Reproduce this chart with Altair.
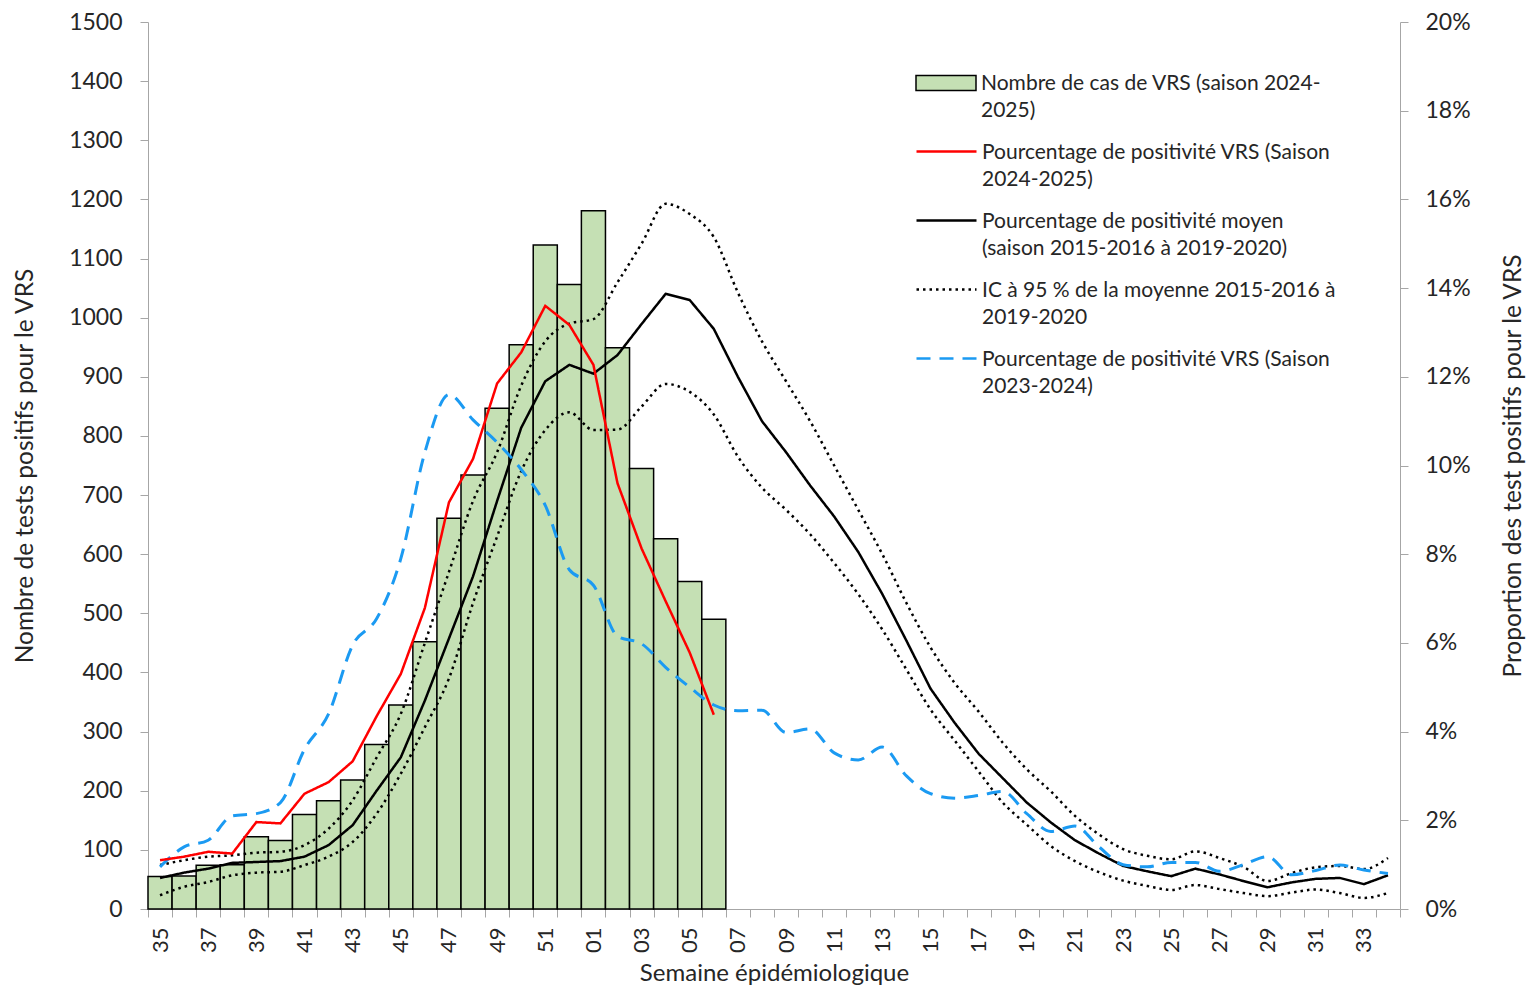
import altair as alt
import pandas as pd

# ---------------- data ----------------
weeks = ["35", "36", "37", "38", "39", "40", "41", "42", "43", "44", "45", "46",
         "47", "48", "49", "50", "51", "52", "01", "02", "03", "04", "05", "06",
         "07", "08", "09", "10", "11", "12", "13", "14", "15", "16", "17", "18",
         "19", "20", "21", "22", "23", "24", "25", "26", "27", "28", "29", "30",
         "31", "32", "33", "34"]

# number of positive RSV tests, season 2024-2025 (weeks 35 -> 06)
cases = [55, 56, 74, 75, 122, 116, 160, 183, 218, 278, 345, 452,
         661, 734, 847, 954, 1123, 1056, 1181, 949, 745, 626, 554, 490]

# % positivity season 2024-2025 (weeks 35 -> 06)
pct_2425 = [1.10, 1.18, 1.29, 1.25, 1.96, 1.93, 2.60, 2.86, 3.33, 4.35, 5.30, 6.79,
            9.17, 10.15, 11.85, 12.55, 13.60, 13.17, 12.27, 9.60, 8.13, 6.94, 5.78, 4.38]

# mean % positivity 2015-2016 to 2019-2020
pct_mean = [0.70, 0.82, 0.91, 1.04, 1.06, 1.08, 1.18, 1.44, 1.89, 2.67, 3.42, 4.70,
            6.10, 7.50, 9.20, 10.85, 11.90, 12.27, 12.07, 12.49, 13.19, 13.87, 13.73, 13.08,
            12.00, 11.00, 10.30, 9.55, 8.85, 8.05, 7.10, 6.05, 4.97, 4.20, 3.50, 2.95,
            2.40, 1.95, 1.55, 1.25, 0.97, 0.85, 0.74, 0.91, 0.78, 0.63, 0.49, 0.60,
            0.68, 0.70, 0.56, 0.76]

# 95 % CI of the mean
ci_upper = [0.99, 1.10, 1.18, 1.21, 1.27, 1.29, 1.44, 1.81, 2.45, 3.42, 4.40, 6.00,
            7.60, 9.20, 10.30, 11.80, 12.80, 13.20, 13.30, 14.13, 15.00, 15.90, 15.67, 15.15,
            13.90, 12.80, 11.90, 11.00, 10.00, 9.00, 8.00, 6.90, 5.90, 5.10, 4.45, 3.75,
            3.15, 2.65, 2.10, 1.68, 1.35, 1.20, 1.12, 1.30, 1.15, 0.95, 0.63, 0.81,
            0.94, 0.97, 0.90, 1.15]
ci_lower = [0.31, 0.50, 0.61, 0.76, 0.82, 0.84, 0.99, 1.18, 1.51, 2.15, 3.05, 4.10,
            5.20, 6.90, 8.40, 9.87, 10.80, 11.20, 10.80, 10.81, 11.33, 11.84, 11.66, 11.15,
            10.20, 9.50, 9.00, 8.45, 7.80, 7.10, 6.30, 5.40, 4.50, 3.80, 3.10, 2.40,
            1.90, 1.42, 1.08, 0.83, 0.64, 0.52, 0.43, 0.54, 0.45, 0.36, 0.29, 0.37,
            0.44, 0.36, 0.25, 0.36]

# % positivity season 2023-2024
pct_2324 = [0.95, 1.40, 1.55, 2.10, 2.15, 2.40, 3.60, 4.40, 5.95, 6.55, 7.90, 10.30,
            11.60, 11.03, 10.52, 9.91, 9.10, 7.65, 7.30, 6.15, 5.98, 5.45, 5.00, 4.60,
            4.47, 4.48, 3.98, 4.06, 3.52, 3.36, 3.65, 3.00, 2.60, 2.50, 2.56, 2.65,
            2.15, 1.75, 1.87, 1.40, 1.00, 0.95, 1.05, 1.05, 0.85, 1.00, 1.18, 0.77,
            0.87, 0.99, 0.88, 0.80]

left_ticks = [0, 100, 200, 300, 400, 500, 600, 700, 800, 900, 1000, 1100, 1200, 1300, 1400, 1500]
right_ticks = [0, 2, 4, 6, 8, 10, 12, 14, 16, 18, 20]

S_BAR = "Nombre de cas de VRS (saison 2024-|2025)"
S_RED = "Pourcentage de positivité VRS (Saison|2024-2025)"
S_MEAN = "Pourcentage de positivité moyen|(saison 2015-2016 à 2019-2020)"
S_CI = "IC à 95 % de la moyenne 2015-2016 à|2019-2020"
S_BLUE = "Pourcentage de positivité VRS (Saison|2023-2024)"

series_names = [S_RED, S_MEAN, S_CI, S_BLUE]
series_colors = ["#ff0000", "#000000", "#000000", "#1b9af2"]
series_dash = [[1, 0], [1, 0], [2.5, 4], [14, 9]]

# ---------------- tables ----------------
bars_df = pd.DataFrame({"week": weeks[:len(cases)], "cases": cases, "serie_bar": S_BAR})
red_df = pd.DataFrame({"week": weeks[:len(pct_2425)], "pct": pct_2425, "serie": S_RED, "part": "a"})
mean_df = pd.DataFrame({"week": weeks, "pct": pct_mean, "serie": S_MEAN, "part": "a"})
ci_df = pd.concat([
    pd.DataFrame({"week": weeks, "pct": ci_upper, "serie": S_CI, "part": "upper"}),
    pd.DataFrame({"week": weeks, "pct": ci_lower, "serie": S_CI, "part": "lower"}),
], ignore_index=True)
blue_df = pd.DataFrame({"week": weeks, "pct": pct_2324, "serie": S_BLUE, "part": "a"})

TXT = "#262626"
GRAY = "#a6a6a6"
FONT = "Lato"

x_axis = alt.Axis(
    title="Semaine épidémiologique", labelAngle=270,
    labelExpr="toNumber(datum.value) % 2 == 1 ? datum.label : ''",
    tickBand="extent", tickSize=8, labelPadding=10, labelOverlap=False,
    titlePadding=9, domainColor=GRAY, tickColor=GRAY, labelFontSize=22,
    titleFontSize=24,
)
x_enc = alt.X("week:O", sort=weeks,
              scale=alt.Scale(domain=weeks, paddingInner=0, paddingOuter=0),
              axis=x_axis)

y_left = alt.Y("cases:Q", scale=alt.Scale(domain=[0, 1500], nice=False),
               axis=alt.Axis(values=left_ticks, format="d",
                             title="Nombre de tests positifs pour le VRS",
                             tickSize=8, labelPadding=18, titlePadding=31,
                             domainColor=GRAY, tickColor=GRAY,
                             labelFontSize=23, titleFontSize=24.5))

right_axis = alt.Axis(orient="right", values=right_ticks, labelExpr="datum.value + '%'",
                      title="Proportion des test positifs pour le VRS", titleAngle=270,
                      tickSize=8, labelPadding=17, titlePadding=55,
                      domainColor=GRAY, tickColor=GRAY, labelFontSize=23, titleFontSize=24.5)
y_right = alt.Y("pct:Q", scale=alt.Scale(domain=[0, 20], nice=False), axis=right_axis)

# legend symbols: nominal size 30 px, path drawn 60 px wide and shifted down 10 px
line_legend = alt.Legend(
    title=None, orient="none", legendX=782, legendY=103, padding=0,
    symbolType="M-2,0.67L2,0.67", symbolSize=900, symbolStrokeWidth=2.5,
    symbolFillColor="transparent",
    labelExpr="split(datum.label, '|')", labelFontSize=21, labelLimit=600,
    labelOffset=19, rowPadding=4, labelBaseline="top", labelColor=TXT,
)
color_enc = alt.Color("serie:N", scale=alt.Scale(domain=series_names, range=series_colors),
                      legend=line_legend)
dash_enc = alt.StrokeDash("serie:N", scale=alt.Scale(domain=series_names, range=series_dash),
                          legend=line_legend)

bars = alt.Chart(bars_df).mark_bar(stroke="black", strokeWidth=1.5).encode(
    x=x_enc, y=y_left,
    fill=alt.Fill("serie_bar:N", scale=alt.Scale(domain=[S_BAR], range=["#c5e0b4"]),
                  legend=alt.Legend(
                      title=None, orient="none", legendX=782, legendY=35, padding=0,
                      symbolType="M-2,0.17L2,0.17L2,1.17L-2,1.17Z", symbolSize=900,
                      symbolStrokeColor="black", symbolStrokeWidth=1.5,
                      labelExpr="split(datum.label, '|')", labelFontSize=21, labelLimit=600,
                      labelOffset=19, labelBaseline="top", labelColor=TXT)),
)

red = alt.Chart(red_df).mark_line(strokeWidth=2.5).encode(
    x=x_enc, y=y_right, color=color_enc, strokeDash=dash_enc)
mean = alt.Chart(mean_df).mark_line(strokeWidth=2.5).encode(
    x=x_enc, y=y_right, color=color_enc, strokeDash=dash_enc)
ci = alt.Chart(ci_df).mark_line(strokeWidth=2.5, interpolate="monotone").encode(
    x=x_enc, y=y_right, color=color_enc, strokeDash=dash_enc, detail="part:N")
blue = alt.Chart(blue_df).mark_line(strokeWidth=3, interpolate="monotone").encode(
    x=x_enc, y=y_right, color=color_enc, strokeDash=dash_enc)

lines = alt.layer(mean, ci, blue, red)

chart = alt.layer(bars, lines).resolve_scale(y="independent").properties(
    width=1252, height=887,
    padding={"left": 140, "top": 14, "right": 127, "bottom": 76},
    autosize=alt.AutoSizeParams(type="none"),
).configure(
    font=FONT,
    style={"guide-label": {"lineHeight": 27}},
).configure_view(stroke=None).configure_axis(
    grid=False, labelFont=FONT, titleFont=FONT, labelColor=TXT, titleColor=TXT,
    titleFontWeight="normal",
).configure_legend(labelFont=FONT)

chart.save("out.html", embed_options={"renderer": "svg", "actions": False})
